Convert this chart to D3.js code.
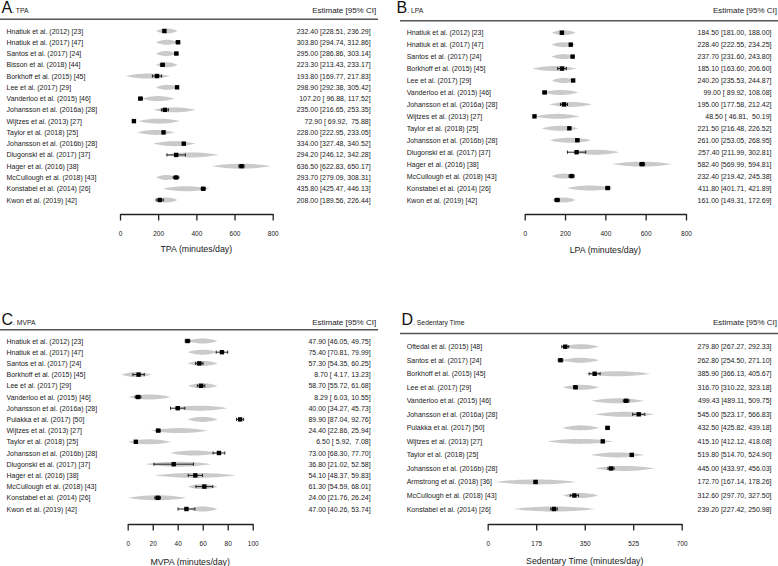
<!DOCTYPE html>
<html><head><meta charset="utf-8">
<script src="https://cdn.jsdelivr.net/npm/d3@7"></script>
<style>
body{margin:0;background:#fff}
svg{display:block}
text{font-family:"Liberation Sans",Arial,Helvetica,sans-serif;fill:#222;white-space:pre}
</style>
</head><body>
<svg id="chart" width="778" height="566"></svg>
<script>
// ---------- Panel A: TPA ----------
const tpaStudies = ["Hnatiuk et al. (2012) [23]","Hnatiuk et al. (2017) [47]","Santos et al. (2017) [24]","Bisson et al. (2018) [44]","Borkhoff et al. (2015) [45]","Lee et al. (2017) [29]","Vanderloo et al. (2015) [46]","Johansson et al. (2016a) [28]","Wijtzes et al. (2013) [27]","Taylor et al. (2018) [25]","Johansson et al. (2016b) [28]","Dlugonski et al. (2017) [37]","Hager et al. (2016) [38]","McCullough et al. (2018) [43]","Konstabel et al. (2014) [26]","Kwon et al. (2019) [42]"];
const tpaEst = [232.40,303.80,295.00,223.30,193.80,298.90,107.20,235.00,72.90,228.00,334.00,294.20,636.50,293.70,435.80,208.00];
const tpaLo  = [228.51,294.74,286.86,213.43,169.77,292.38,96.88,216.65,69.92,222.95,327.48,246.12,622.83,279.09,425.47,189.56];
const tpaHi  = [236.29,312.86,303.14,233.17,217.83,305.42,117.52,253.35,75.88,233.05,340.52,342.28,650.17,308.31,446.13,226.44];
const tpaDistLo = [188,188,188,188,31,188,114,175,96,90,175,235,480,189,224,188];
const tpaDistHi = [302,306,296,302,262,306,285,395,314,285,395,515,791,297,472,302];
const tpaTicks = [0,200,400,600,800];

// ---------- Panel B: LPA ----------
const lpaStudies = ["Hnatiuk et al. (2012) [23]","Hnatiuk et al. (2017) [47]","Santos et al. (2017) [24]","Borkhoff et al. (2015) [45]","Lee et al. (2017) [29]","Vanderloo et al. (2015) [46]","Johansson et al. (2016a) [28]","Wijtzes et al. (2013) [27]","Taylor et al. (2018) [25]","Johansson et al. (2016b) [28]","Dlugonski et al. (2017) [37]","Hager et al. (2016) [38]","McCullough et al. (2018) [43]","Konstabel et al. (2014) [26]","Kwon et al. (2019) [42]"];
const lpaEst = [184.50,228.40,237.70,185.10,240.20,99.00,195.00,48.50,221.50,261.00,257.40,582.40,232.40,411.80,161.00];
const lpaLo  = [181.00,222.55,231.60,163.60,235.53,89.92,177.58,46.81,216.48,253.05,211.99,569.99,219.42,401.71,149.31];
const lpaHi  = [188.00,234.25,243.80,206.60,244.87,108.08,212.42,50.19,226.52,268.95,302.81,594.81,245.38,421.89,172.69];
const lpaDistLo = [134,134,134,38,134,92,122,51,84,122,235,435,134,208,134];
const lpaDistHi = [253,250,250,258,253,266,332,271,266,332,470,729,250,440,253];
const lpaTicks = [0,200,400,600,800];

// ---------- Panel C: MVPA ----------
const mvpaStudies = ["Hnatiuk et al. (2012) [23]","Hnatiuk et al. (2017) [47]","Santos et al. (2017) [24]","Borkhoff et al. (2015) [45]","Lee et al. (2017) [29]","Vanderloo et al. (2015) [46]","Johansson et al. (2016a) [28]","Pulakka et al. (2017) [50]","Wijtzes et al. (2013) [27]","Taylor et al. (2018) [25]","Johansson et al. (2016b) [28]","Dlugonski et al. (2017) [37]","Hager et al. (2016) [38]","McCullough et al. (2018) [43]","Konstabel et al. (2014) [26]","Kwon et al. (2019) [42]"];
const mvpaEst = [47.90,75.40,57.30,8.70,58.70,8.29,40.00,89.90,24.40,6.50,73.00,36.80,54.10,61.30,24.00,47.00];
const mvpaLo  = [46.05,70.81,54.35,4.17,55.72,6.03,34.27,87.04,22.86,5.92,68.30,21.02,48.37,54.59,21.76,40.26];
const mvpaHi  = [49.75,79.99,60.25,13.23,61.68,10.55,45.73,92.76,25.94,7.08,77.70,52.58,59.83,68.01,26.24,53.74];
const mvpaDistLo = [48,48,48,-5,48,0,35,48,18.6,0,33.8,13.8,21.8,48,0,48];
const mvpaDistHi = [72,72,72,18.6,72,34.7,80,72,64,34.7,72.5,67,86.4,72,47,72];
const mvpaTicks = [0,20,40,60,80,100];

// ---------- Panel D: Sedentary Time ----------
const sedStudies = ["Oftedal et al. (2015) [48]","Santos et al. (2017) [24]","Borkhoff et al. (2015) [45]","Lee et al. (2017) [29]","Vanderloo et al. (2015) [46]","Johansson et al. (2016a) [28]","Pulakka et al. (2017) [50]","Wijtzes et al. (2013) [27]","Taylor et al. (2018) [25]","Johansson et al. (2016b) [28]","Armstrong et al. (2018) [36]","McCullough et al. (2018) [43]","Konstabel et al. (2014) [26]"];
const sedEst = [279.80,262.80,385.90,316.70,499.43,545.00,432.50,415.10,519.80,445.00,172.70,312.60,239.20];
const sedLo  = [267.27,254.50,366.13,310.22,489.11,523.17,425.82,412.12,514.70,433.97,167.14,297.70,227.42];
const sedHi  = [292.33,271.10,405.67,323.18,509.75,566.83,439.18,418.08,524.90,456.03,178.26,327.50,250.98];
const sedDistLo = [270,267,347,270,373,387,270,215,373,387,26,271,90];
const sedDistHi = [402,402,588,402,565,601,402,453,565,601,321,399,390];
const sedTicks = [0,175,350,525,700];

const svg = d3.select("#chart");

function fmtCol(vals){
  const s = vals.map(v => v.toFixed(2));
  const w = d3.max(s, d => d.length);
  return s.map(d => d.padStart(w, " "));
}

function drawPanel(p){
  const g = svg.append("g");
  const n = p.studies.length;
  const x = d3.scaleLinear().domain([p.ticks[0], p.ticks[p.ticks.length-1]]).range(p.xr);
  const y = d3.scaleLinear().domain([0, n-1]).range([p.rowTop, p.rowBottom]);

  // header
  const ht = g.append("text").attr("x", p.letterX).attr("y", p.headY);
  ht.append("tspan").style("font-size","16px").style("fill","#111").text(p.letter);
  ht.append("tspan").style("font-size","6.8px").text(". " + p.title);
  g.append("text").attr("x", p.estX + 5.5).attr("y", p.headY)
    .attr("text-anchor","end").style("font-size","8px").text("Estimate [95% CI]");
  g.append("line").attr("x1", p.ruleX[0]).attr("x2", p.ruleX[1])
    .attr("y1", p.ruleY).attr("y2", p.ruleY)
    .attr("stroke","#555").attr("stroke-width",1.5);

  // study labels
  g.selectAll("text.lab").data(p.studies).join("text").attr("class","lab")
    .attr("x", p.labX).attr("y", (d,i) => y(i))
    .attr("dominant-baseline","central").style("font-size","7px").text(d => d);

  // estimate text
  const fe = fmtCol(p.est), fl = fmtCol(p.lo), fh = fmtCol(p.hi);
  g.selectAll("text.est").data(p.est).join("text").attr("class","est")
    .attr("x", p.estX).attr("y", (d,i) => y(i))
    .attr("text-anchor","end").attr("dominant-baseline","central")
    .style("font-size","7px")
    .text((d,i) => `${fe[i]} [${fl[i]}, ${fh[i]}]`);

  // grey spindles
  const hh = 2.5;
  const spindle = (lo, hi, yc) => {
    const pts = [];
    const N = 30;
    for (let k = 0; k <= N; k++){
      const t = k / N * 2 - 1;
      pts.push([x(lo) + (x(hi)-x(lo)) * (k/N), yc - hh * (1 - t*t)]);
    }
    for (let k = N; k >= 0; k--){
      const t = k / N * 2 - 1;
      pts.push([x(lo) + (x(hi)-x(lo)) * (k/N), yc + hh * (1 - t*t)]);
    }
    return d3.line()(pts) + "Z";
  };
  g.selectAll("path.dist").data(p.distLo).join("path").attr("class","dist")
    .attr("d", (d,i) => spindle(p.distLo[i], p.distHi[i], y(i)))
    .attr("fill","#cacaca");

  // CI lines with caps
  const ci = g.selectAll("g.ci").data(p.est).join("g").attr("class","ci");
  ci.append("line").attr("x1",(d,i)=>x(p.lo[i])).attr("x2",(d,i)=>x(p.hi[i]))
    .attr("y1",(d,i)=>y(i)).attr("y2",(d,i)=>y(i)).attr("stroke","#111").attr("stroke-width",0.9);
  ci.append("line").attr("x1",(d,i)=>x(p.lo[i])).attr("x2",(d,i)=>x(p.lo[i]))
    .attr("y1",(d,i)=>y(i)-1.6).attr("y2",(d,i)=>y(i)+1.6).attr("stroke","#111").attr("stroke-width",0.9);
  ci.append("line").attr("x1",(d,i)=>x(p.hi[i])).attr("x2",(d,i)=>x(p.hi[i]))
    .attr("y1",(d,i)=>y(i)-1.6).attr("y2",(d,i)=>y(i)+1.6).attr("stroke","#111").attr("stroke-width",0.9);
  const sq = 4.4;
  g.selectAll("rect.pt").data(p.est).join("rect").attr("class","pt")
    .attr("x", d => x(d) - sq/2).attr("y", (d,i) => y(i) - sq/2)
    .attr("width", sq).attr("height", sq).attr("fill","#000");

  // axis
  const ax = g.append("g").attr("transform", `translate(0,${p.axisY})`)
    .call(d3.axisBottom(x).tickValues(p.ticks).tickSize(6.5).tickSizeOuter(0).tickPadding(10.5)
      .tickFormat(d3.format("d")));
  ax.select(".domain").attr("stroke","#222").attr("stroke-width",1.3);
  ax.selectAll(".tick line").attr("stroke","#222").attr("stroke-width",1.3);
  ax.selectAll(".tick text").style("font-size","6.5px").style("font-family",'"Liberation Sans",Arial,sans-serif').attr("fill","#222");
  g.append("text").attr("x", (p.xr[0]+p.xr[1])/2).attr("y", p.titleY)
    .attr("text-anchor","middle").attr("dominant-baseline","central")
    .style("font-size","8.8px").text(p.axisTitle);
}

drawPanel({letter:"A", title:"TPA", studies:tpaStudies, est:tpaEst, lo:tpaLo, hi:tpaHi,
  distLo:tpaDistLo, distHi:tpaDistHi, ticks:tpaTicks, xr:[120,272.7],
  letterX:1.5, labX:6.5, estX:370.7, headY:12.7, ruleY:19.3, ruleX:[0,378],
  rowTop:31, rowBottom:200, axisY:214, titleY:249.3, axisTitle:"TPA (minutes/day)"});
drawPanel({letter:"B", title:"LPA", studies:lpaStudies, est:lpaEst, lo:lpaLo, hi:lpaHi,
  distLo:lpaDistLo, distHi:lpaDistHi, ticks:lpaTicks, xr:[524.7,686],
  letterX:396.5, labX:406.7, estX:771.5, headY:13, ruleY:20.8, ruleX:[400,778],
  rowTop:32.7, rowBottom:200, axisY:214, titleY:250, axisTitle:"LPA (minutes/day)"});
drawPanel({letter:"C", title:"MVPA", studies:mvpaStudies, est:mvpaEst, lo:mvpaLo, hi:mvpaHi,
  distLo:mvpaDistLo, distHi:mvpaDistHi, ticks:mvpaTicks, xr:[127.7,252.7],
  letterX:1.5, labX:6.5, estX:370.7, headY:325, ruleY:329.8, ruleX:[0,378],
  rowTop:341, rowBottom:509, axisY:524, titleY:561.5, axisTitle:"MVPA (minutes/day)"});
drawPanel({letter:"D", title:"Sedentary Time", studies:sedStudies, est:sedEst, lo:sedLo, hi:sedHi,
  distLo:sedDistLo, distHi:sedDistHi, ticks:sedTicks, xr:[487.7,681.7],
  letterX:401.5, labX:406.7, estX:771.5, headY:324.5, ruleY:333.5, ruleX:[400,778],
  rowTop:346.7, rowBottom:509, axisY:524, titleY:561.3, axisTitle:"Sedentary Time (minutes/day)"});
</script>
</body></html>
